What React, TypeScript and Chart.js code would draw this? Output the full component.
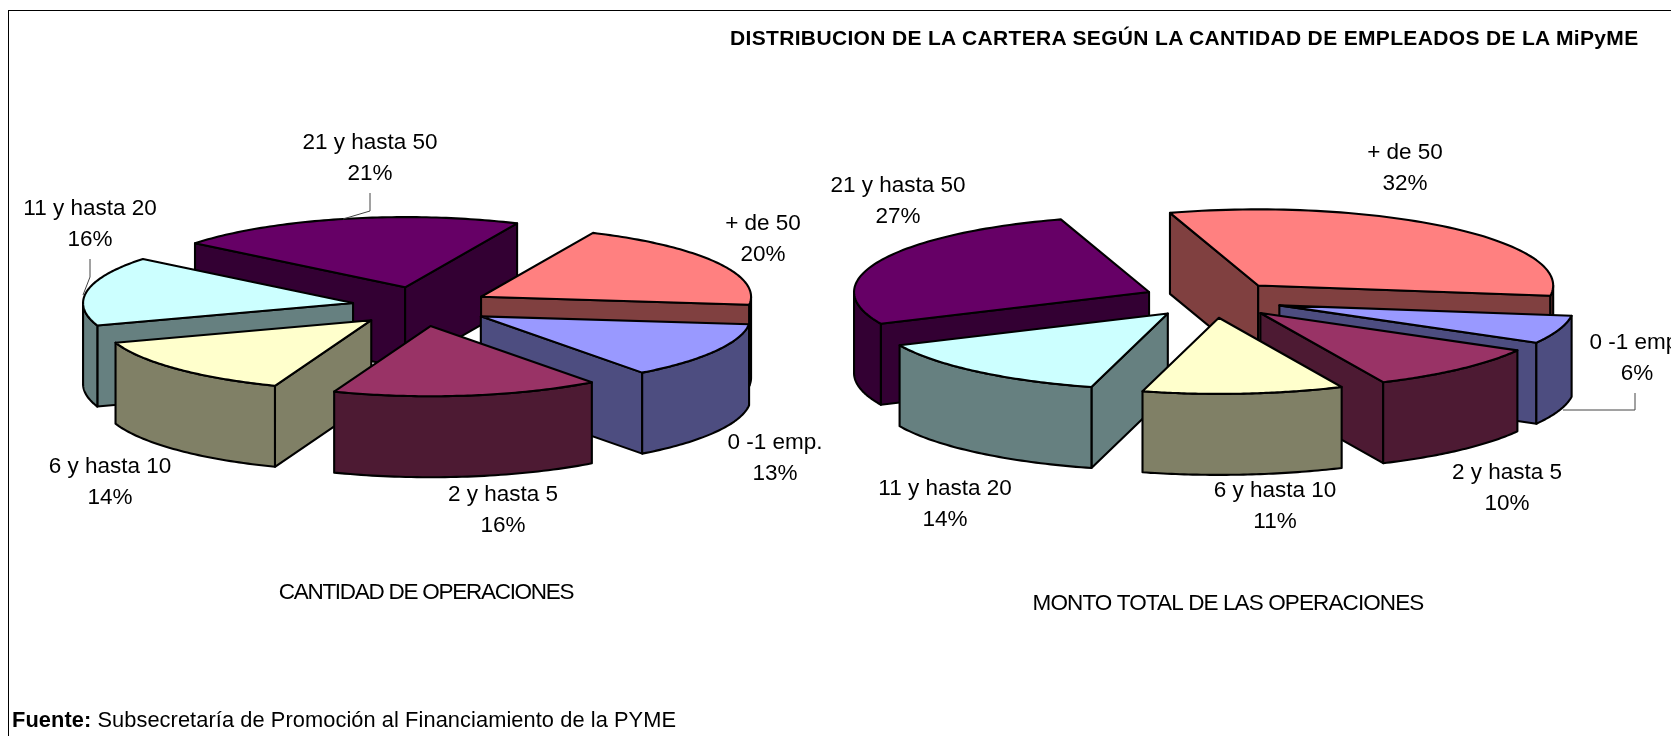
import React, { useEffect, useRef } from "react";
import { Chart, registerables } from "chart.js";

Chart.register(...registerables);

const FONT = '"Liberation Sans", Arial, sans-serif';
const W = 1671;
const H = 736;

const categories = ["0 -1 emp.", "2 y hasta 5", "6 y hasta 10", "11 y hasta 20", "21 y hasta 50", "+ de 50"];
const operacionesValues = [13, 16, 14, 16, 21, 20];
const montoValues = [6, 10, 11, 14, 27, 32];

const topColors = ["#9999FF", "#993366", "#FFFFCC", "#CCFFFF", "#660066", "#FF8080"];
const wallColors = ["#4D4D80", "#4D1A33", "#808066", "#668080", "#330033", "#804040"];

const mainTitle = "DISTRIBUCION DE LA CARTERA SEGÚN LA CANTIDAD DE EMPLEADOS DE LA MiPyME";
const leftCaption = "CANTIDAD DE OPERACIONES";
const rightCaption = "MONTO TOTAL DE LAS OPERACIONES";

const leftLabelPos = [[775, 443], [503, 495], [110, 467], [90, 209], [370, 143], [763, 224]];
const rightLabelPos = [[1637, 343], [1507, 473], [1275, 491], [945, 489], [898, 186], [1405, 153]];
const leftLeaders = [[[370, 193], [370, 211], [343, 219]], [[90, 259], [90, 277], [83, 295]]];
const rightLeaders = [[[1635, 393], [1635, 410], [1563, 410]]];

type Cfg = {
  cx: number; cy: number; radius: number; k: number; kOff: number; explode: number; depth: number; rotation: number;
  values: number[]; labelPos: number[][]; leaders: number[][][];
  caption: string; captionPos: number[]; captionSpacing: string;
};

const leftCfg: Cfg = {
  cx: 421, cy: 306.5, radius: 270, k: 0.26, kOff: 0.286, explode: 69, depth: 81, rotation: 96.5,
  values: operacionesValues, labelPos: leftLabelPos, leaders: leftLeaders,
  caption: leftCaption, captionPos: [426, 593], captionSpacing: "-1.27px",
};
const rightCfg: Cfg = {
  cx: 1213, cy: 299.5, radius: 295, k: 0.258, kOff: 0.262, explode: 70, depth: 81, rotation: 97.8,
  values: montoValues, labelPos: rightLabelPos, leaders: rightLeaders,
  caption: rightCaption, captionPos: [1228, 604], captionSpacing: "-0.89px",
};

const pie3d = {
  id: "pie3d",
  beforeDatasetDraw(chart: any, _args: any, opts: any) {
    const cfg: Cfg = opts.cfg;
    const ctx = chart.ctx as CanvasRenderingContext2D;
    const arcs = chart.getDatasetMeta(0).data as any[];
    const items = arcs.map((el, i) => {
      const p = el.getProps(["x", "y", "startAngle", "endAngle", "outerRadius"], true);
      const mid = (p.startAngle + p.endAngle) / 2;
      return { el, i, p, mid };
    });
    // painter's order: back slices first
    items.sort((a, b) => Math.sin(a.mid) - Math.sin(b.mid));
    for (const it of items) {
      const { p, mid, el, i } = it;
      const ox = Math.cos(mid) * cfg.explode;
      const oy = (Math.sin(mid) * cfg.explode * cfg.kOff) / cfg.k;
      const pt = (a: number, r: number, drop = 0): [number, number] => [
        p.x + ox + r * Math.cos(a),
        p.y + cfg.k * (oy + r * Math.sin(a)) + drop,
      ];
      ctx.save();
      ctx.lineWidth = 2.1;
      ctx.lineJoin = "round";
      ctx.strokeStyle = "#000";
      ctx.fillStyle = wallColors[i];
      const R = p.outerRadius;
      const quad = (a: number) => {
        const A = pt(a, 0), B = pt(a, R), C = pt(a, R, cfg.depth), D = pt(a, 0, cfg.depth);
        ctx.beginPath();
        ctx.moveTo(A[0], A[1]); ctx.lineTo(B[0], B[1]); ctx.lineTo(C[0], C[1]); ctx.lineTo(D[0], D[1]);
        ctx.closePath(); ctx.fill(); ctx.stroke();
      };
      if (Math.cos(p.startAngle) < 0) quad(p.startAngle);
      if (Math.cos(p.endAngle) > 0) quad(p.endAngle);
      // outer curved wall, front half only
      const TAU = Math.PI * 2;
      for (const shift of [0, TAU]) {
        const a0 = Math.max(p.startAngle, shift);
        const a1 = Math.min(p.endAngle, shift + Math.PI);
        if (a1 > a0) {
          const steps = 48;
          ctx.beginPath();
          for (let s = 0; s <= steps; s++) {
            const q = pt(a0 + ((a1 - a0) * s) / steps, R);
            s === 0 ? ctx.moveTo(q[0], q[1]) : ctx.lineTo(q[0], q[1]);
          }
          for (let s = steps; s >= 0; s--) {
            const q = pt(a0 + ((a1 - a0) * s) / steps, R, cfg.depth);
            ctx.lineTo(q[0], q[1]);
          }
          ctx.closePath(); ctx.fill(); ctx.stroke();
        }
      }
      // top face, drawn by the library's arc element inside a flattened space
      ctx.save();
      ctx.translate(p.x, p.y);
      ctx.scale(1, cfg.k);
      ctx.translate(-p.x, -p.y);
      ctx.translate(ox, oy);
      el.draw(ctx);
      ctx.restore();
      // top outline in undistorted line width
      const steps = 72;
      ctx.beginPath();
      const o = pt(0, 0);
      ctx.moveTo(o[0], o[1]);
      for (let s = 0; s <= steps; s++) {
        const q = pt(p.startAngle + ((p.endAngle - p.startAngle) * s) / steps, R);
        ctx.lineTo(q[0], q[1]);
      }
      ctx.closePath();
      ctx.stroke();
      ctx.restore();
    }
    return false;
  },
  afterDraw(chart: any, _args: any, opts: any) {
    const cfg: Cfg = opts.cfg;
    const ctx = chart.ctx as CanvasRenderingContext2D;
    ctx.save();
    ctx.strokeStyle = "#444";
    ctx.lineWidth = 1;
    for (const line of cfg.leaders) {
      ctx.beginPath();
      line.forEach((q, j) => (j ? ctx.lineTo(q[0], q[1]) : ctx.moveTo(q[0], q[1])));
      ctx.stroke();
    }
    ctx.fillStyle = "#000";
    ctx.textAlign = "center";
    ctx.textBaseline = "middle";
    ctx.font = `22.5px ${FONT}`;
    categories.forEach((name, i) => {
      const [x, y] = cfg.labelPos[i];
      ctx.fillText(name, x, y);
      ctx.fillText(`${cfg.values[i]}%`, x, y + 31);
    });
    (ctx as any).letterSpacing = cfg.captionSpacing;
    ctx.fillText(cfg.caption, cfg.captionPos[0], cfg.captionPos[1]);
    ctx.restore();
  },
};

function makeChart(canvas: HTMLCanvasElement, cfg: Cfg) {
  return new Chart(canvas, {
    type: "pie",
    data: {
      labels: categories,
      datasets: [{ data: cfg.values, backgroundColor: topColors, borderWidth: 0, clip: false } as any],
    },
    options: {
      responsive: false,
      animation: false,
      events: [],
      rotation: cfg.rotation,
      radius: cfg.radius,
      layout: {
        padding: {
          left: Math.max(0, 2 * cfg.cx - W),
          right: Math.max(0, W - 2 * cfg.cx),
          top: Math.max(0, 2 * cfg.cy - H),
          bottom: Math.max(0, H - 2 * cfg.cy),
        },
      },
      plugins: { legend: { display: false }, tooltip: { enabled: false }, pie3d: { cfg } },
    } as any,
    plugins: [pie3d as any],
  });
}

export default function App() {
  const leftRef = useRef<HTMLCanvasElement>(null);
  const rightRef = useRef<HTMLCanvasElement>(null);
  useEffect(() => {
    document.body.style.margin = "0";
    document.body.style.overflow = "hidden";
    const a = makeChart(leftRef.current!, leftCfg);
    const b = makeChart(rightRef.current!, rightCfg);
    return () => { a.destroy(); b.destroy(); };
  }, []);
  const canvasStyle: React.CSSProperties = { position: "absolute", left: 0, top: 0 };
  return (
    <div style={{ position: "relative", width: W, height: H, overflow: "hidden", background: "#fff", fontFamily: FONT, color: "#000" }}>
      <div style={{ position: "absolute", left: 8, top: 10, width: W, height: H, border: "1px solid #000" }} />
      <canvas ref={leftRef} width={W} height={H} style={canvasStyle} />
      <canvas ref={rightRef} width={W} height={H} style={canvasStyle} />
      <div style={{ position: "absolute", left: 730, top: 26, fontWeight: 700, fontSize: 21, lineHeight: "24px", whiteSpace: "nowrap", letterSpacing: "0.34px" }}>{mainTitle}</div>
      <div style={{ position: "absolute", left: 12, top: 707, fontSize: 21.8, lineHeight: "26px", whiteSpace: "nowrap", letterSpacing: "0.08px" }}>
        <b>Fuente:</b> Subsecretaría de Promoción al Financiamiento de la PYME
      </div>
    </div>
  );
}
